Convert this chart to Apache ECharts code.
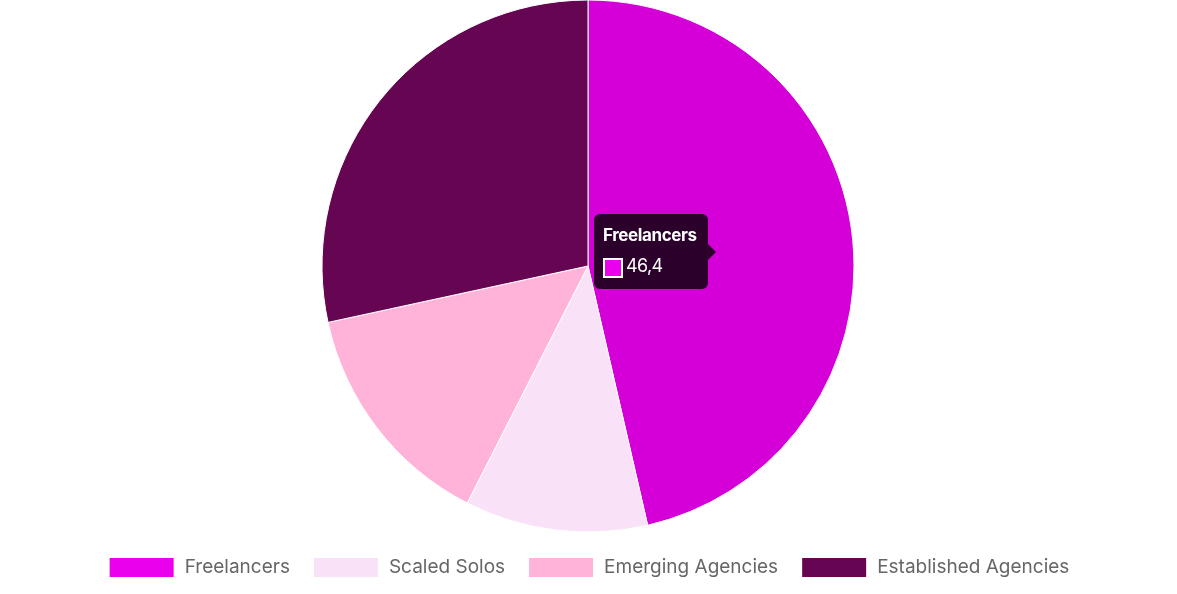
<!DOCTYPE html>
<html><head><meta charset="utf-8">
<script src="https://cdn.jsdelivr.net/npm/echarts@6/dist/echarts.min.js"></script>
<style>html,body{margin:0;padding:0;background:#fff}#c{width:1177px;height:594px}</style>
</head><body><div id="c"></div>
<script>
const categories = ['Freelancers', 'Scaled Solos', 'Emerging Agencies', 'Established Agencies'];
const values = [46.4, 11.1, 14.1, 28.4];
const sliceColors = ['#d500d8', '#f9e2f8', '#ffb3d9', '#660653'];
const legendColors = ['#ea00ec', '#f9e2f8', '#ffb3d9', '#660653'];

const chart = echarts.init(document.getElementById('c'));
const fmt = v => String(v).replace('.', ',');
chart.setOption({
  animation: false,
  textStyle: { fontFamily: 'Inter' },
  tooltip: {
    trigger: 'item',
    transitionDuration: 0,
    alwaysShowContent: true,
    backgroundColor: 'rgba(0,0,0,0.8)',
    borderWidth: 0,
    padding: [0, 0, 0, 0],
    extraCssText: 'border-radius:6px;box-shadow:none;overflow:visible;',
    position: [594, 214],
    formatter: function (p) {
      return '<div style="position:relative;width:114px;height:75px;font-family:Inter;color:#fff;">' +
        '<div style="position:absolute;left:9px;top:10px;font-size:17px;font-weight:700;line-height:22px;letter-spacing:-0.4px;">' + p.name + '</div>' +
        '<div style="position:absolute;left:9px;top:44px;width:16px;height:16px;border:2px solid #fff;background:' + legendColors[p.dataIndex] + ';"></div>' +
        '<div style="position:absolute;left:32px;top:41px;font-size:18px;line-height:22px;letter-spacing:-0.6px;">' + fmt(p.value) + '</div>' +
        '<div style="position:absolute;right:-8px;top:30px;width:0;height:0;border-top:8px solid transparent;border-bottom:8px solid transparent;border-left:8px solid rgba(0,0,0,0.8);"></div>' +
        '</div>';
    }
  },
  legend: {
    top: 551,
    left: 'center',
    itemWidth: 66,
    itemHeight: 21,
    itemGap: 22,
    icon: 'rect',
    selectedMode: false,
    textStyle: { fontFamily: 'Inter', fontSize: 19, color: '#666', padding: [0, 0, 0, 5] },
    data: categories.map((n, i) => ({ name: n, itemStyle: { color: legendColors[i] } }))
  },
  series: [{
    type: 'pie',
    center: [588, 266],
    radius: 266,
    startAngle: 90,
    label: { show: false },
    labelLine: { show: false },
    emphasis: { scale: false },
    itemStyle: { borderColor: '#fff', borderWidth: 1 },
    data: categories.map((n, i) => ({ name: n, value: values[i], itemStyle: { color: sliceColors[i] } }))
  }]
});
chart.dispatchAction({ type: 'showTip', seriesIndex: 0, dataIndex: 0 });
</script></body></html>
